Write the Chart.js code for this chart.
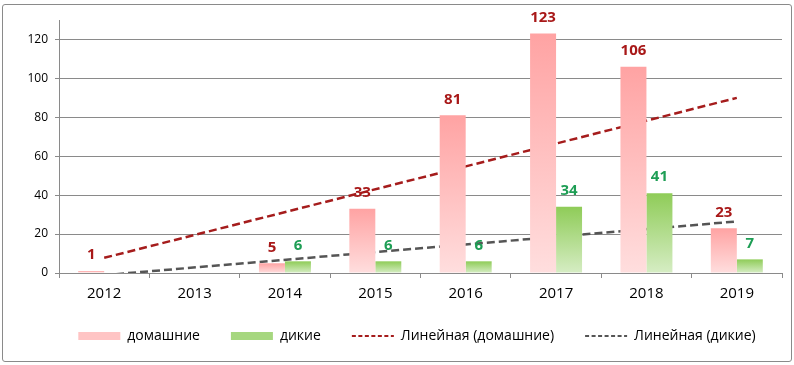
<!DOCTYPE html>
<html>
<head>
<meta charset="utf-8">
<script src="https://cdn.jsdelivr.net/npm/chart.js@4/dist/chart.umd.min.js"></script>
<style>
  html, body { margin: 0; padding: 0; background: #fff; }
  #wrap { position: relative; width: 794px; height: 365px; }
  #frame {
    position: absolute; left: 2px; top: 4px; width: 790px; height: 358px;
    box-sizing: border-box; border: 1px solid #8a8a8a; border-radius: 3px;
    pointer-events: none;
  }
</style>
</head>
<body>
<div id="wrap">
  <canvas id="chart" width="794" height="365"></canvas>
  <div id="frame"></div>
</div>
<script>
// значения
const years = ['2012', '2013', '2014', '2015', '2016', '2017', '2018', '2019']
const domestic = [1, null, 5, 33, 81, 123, 106, 23]
const wild = [null, null, 6, 6, 6, 34, 41, 7]
// линии тренда: только концы, как они видны на графике
const domesticTrend = [7.8, null, null, null, null, null, null, 90]
const wildTrend = [-1.1, null, null, null, null, null, null, 26.5]

const FONT = "'Open Sans', 'DejaVu Sans', sans-serif"

// вертикальный градиент для каждого столбика отдельно
function barGradient(top, bottom) {
  return (c) => {
    const chart = c.chart
    if (!chart.chartArea || c.type !== 'data' || c.raw == null) return top
    const y = chart.scales.y
    const g = chart.ctx.createLinearGradient(0, y.getPixelForValue(c.raw), 0, y.getPixelForValue(0))
    g.addColorStop(0, top)
    g.addColorStop(1, bottom)
    return g
  }
}

// подписи значений над столбиками
const valueLabels = {
  id: 'valueLabels',
  afterDatasetsDraw(chart) {
    const ctx = chart.ctx
    ctx.save()
    ctx.font = 'bold 15px ' + FONT
    ctx.textAlign = 'center'
    ctx.textBaseline = 'middle'
    chart.data.datasets.forEach((ds, i) => {
      if (!ds.labelColor) return
      const meta = chart.getDatasetMeta(i)
      meta.data.forEach((bar, j) => {
        const v = ds.data[j]
        if (v == null) return
        ctx.fillStyle = ds.labelColor
        ctx.fillText(String(v), bar.x, bar.y - 16)
      })
    })
    ctx.restore()
  },
}

// легенда в оригинале немного смещена вправо
const legendShift = {
  id: 'legendShift',
  afterLayout(chart) {
    if (!chart.legend) return
    chart.legend.left += 26
    chart.legend.right += 26
  },
}

new Chart(document.getElementById('chart'), {
  type: 'bar',
  data: {
    labels: years,
    datasets: [
      {
        label: 'домашние',
        data: domestic,
        backgroundColor: barGradient('#ffa3a3', '#ffdede'),
        legendColor: '#ffc4c4',
        labelColor: '#a81818',
        barPercentage: 1,
        categoryPercentage: 0.575,
      },
      {
        label: 'дикие',
        data: wild,
        backgroundColor: barGradient('#8fcc58', '#d6edc4'),
        legendColor: '#a6d77f',
        labelColor: '#1e9e55',
        barPercentage: 1,
        categoryPercentage: 0.575,
      },
      {
        type: 'line',
        label: 'Линейная (домашние)',
        data: domesticTrend,
        borderColor: '#a51c1c',
        borderWidth: 2.5,
        borderDash: [8, 4],
        pointRadius: 0,
        spanGaps: true,
        fill: false,
      },
      {
        type: 'line',
        label: 'Линейная (дикие)',
        data: wildTrend,
        borderColor: '#555555',
        borderWidth: 2.5,
        borderDash: [8, 4],
        pointRadius: 0,
        spanGaps: true,
        fill: false,
      },
    ],
  },
  options: {
    responsive: false,
    animation: false,
    layout: { padding: { top: 20, right: 12, left: 0, bottom: 12 } },
    plugins: {
      tooltip: { enabled: false },
      legend: {
        position: 'bottom',
        labels: {
          usePointStyle: true,
          pointStyleWidth: 42,
          boxHeight: 8,
          padding: 31,
          color: '#000',
          font: { family: FONT, size: 14 },
          generateLabels: (chart) =>
            chart.data.datasets.map((ds, i) => {
              const isLine = ds.type === 'line'
              return {
                text: ds.label,
                datasetIndex: i,
                pointStyle: isLine ? 'line' : 'rect',
                fillStyle: isLine ? 'rgba(0,0,0,0)' : ds.legendColor,
                strokeStyle: isLine ? ds.borderColor : 'rgba(0,0,0,0)',
                lineWidth: isLine ? 2 : 0,
                lineDash: isLine ? [4, 2.5] : [],
                fontColor: '#000',
                hidden: false,
              }
            }),
        },
      },
    },
    scales: {
      x: {
        grid: { drawOnChartArea: false, offset: true, tickLength: 5, color: '#8a8a8a' },
        border: { color: '#8a8a8a' },
        ticks: { color: '#000', font: { family: FONT, size: 15 }, padding: 7 },
        afterFit: (s) => { s.height = 25 },
      },
      y: {
        min: 0,
        max: 130,
        grid: { color: '#8a8a8a', tickLength: 4 },
        border: { color: '#8a8a8a' },
        ticks: { stepSize: 20, includeBounds: false, color: '#000', font: { family: FONT, size: 12 }, padding: 7 },
        afterFit: (s) => { s.width = 59 },
      },
    },
  },
  plugins: [valueLabels, legendShift],
})
</script>
</body>
</html>
